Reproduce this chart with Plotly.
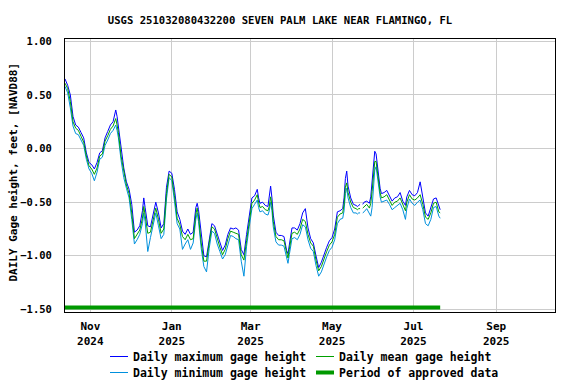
import plotly.graph_objects as go
import pandas as pd

# ---------------- data ----------------
start_date = "2024-10-13"
day_offsets = [0, 2, 4, 6, 8, 10, 12, 14, 16, 18, 20, 22, 24, 26, 28, 30, 32, 34, 36, 38,
               39, 40, 42, 44, 46, 48, 50, 52, 54, 56, 58, 59, 60, 62, 64, 66, 68, 70, 72, 74,
               76, 78, 80, 82, 84, 86, 88, 90, 92, 94, 96, 98, 99, 100, 102, 104, 106, 108, 110, 112,
               114, 116, 118, 120, 122, 124, 126, 128, 130, 132, 134, 136, 138, 140, 142, 144, 145, 146, 148, 150,
               152, 153, 154, 155, 156, 158, 160, 162, 164, 166, 167, 168, 170, 172, 174, 176, 178, 180, 182, 184,
               186, 188, 190, 192, 194, 196, 198, 200, 202, 204, 206, 208, 209, 210, 211, 212, 214, 216, 218, 219,
               220, 221, 222, 223, 224, 226, 228, 229, 230, 231, 232, 233, 234, 235, 236, 237, 239, 241, 243, 245,
               247, 249, 251, 253, 255, 256, 258, 260, 262, 264, 266, 268, 270, 272, 274, 276, 278, 280, 281]

gage_mean = [0.61, 0.56, 0.44, 0.25, 0.19, 0.17, 0.115, 0.06, -0.07, -0.16, -0.19, -0.24, -0.18, -0.07, -0.05, 0.07, 0.12, 0.18, 0.21, 0.28,
             0.22, 0.15, -0.07, -0.22, -0.34, -0.42, -0.60, -0.84, -0.80, -0.76, -0.65, -0.54, -0.62, -0.79, -0.78, -0.66, -0.555, -0.66, -0.79, -0.75,
             -0.42, -0.24, -0.265, -0.44, -0.65, -0.71, -0.82, -0.85, -0.80, -0.85, -0.84, -0.61, -0.555, -0.63, -0.88, -1.05, -1.05, -0.88, -0.73, -0.75,
             -0.84, -0.92, -0.99, -0.94, -0.84, -0.77, -0.78, -0.79, -0.80, -0.99, -1.04, -0.86, -0.68, -0.51, -0.48, -0.43, -0.50, -0.55, -0.54, -0.57,
             -0.58, -0.54, -0.45, -0.53, -0.68, -0.82, -0.85, -0.85, -0.86, -0.99, -1.02, -0.94, -0.79, -0.78, -0.80, -0.75, -0.66, -0.68, -0.80, -0.88,
             -0.91, -1.04, -1.14, -1.10, -1.02, -0.96, -0.90, -0.87, -0.80, -0.64, -0.61, -0.60, -0.52, -0.36, -0.32, -0.41, -0.50, -0.55, -0.56, -0.57,
             -0.56, -0.56, None, -0.555, -0.545, -0.52, -0.555, -0.51, -0.40, -0.23, -0.12, -0.12, -0.23, -0.35, -0.41, -0.46, -0.45, -0.43, -0.48, -0.53,
             -0.50, -0.49, -0.46, -0.53, -0.58, -0.50, -0.43, -0.47, -0.48, -0.46, -0.43, -0.52, -0.64, -0.66, -0.60, -0.51, -0.50, -0.59, -0.60]

gage_max = [0.65, 0.59, 0.50, 0.30, 0.22, 0.20, 0.15, 0.10, -0.04, -0.13, -0.15, -0.19, -0.13, -0.04, -0.02, 0.10, 0.16, 0.22, 0.25, 0.36,
            0.30, 0.20, -0.02, -0.18, -0.31, -0.38, -0.52, -0.78, -0.76, -0.72, -0.58, -0.46, -0.55, -0.72, -0.73, -0.60, -0.50, -0.60, -0.74, -0.70,
            -0.36, -0.21, -0.23, -0.38, -0.59, -0.66, -0.77, -0.80, -0.75, -0.80, -0.78, -0.55, -0.51, -0.57, -0.82, -1.00, -1.01, -0.83, -0.70, -0.72,
            -0.80, -0.88, -0.95, -0.90, -0.80, -0.74, -0.75, -0.74, -0.76, -0.94, -0.99, -0.80, -0.62, -0.46, -0.44, -0.38, -0.46, -0.51, -0.50, -0.53,
            -0.54, -0.45, -0.35, -0.46, -0.62, -0.78, -0.81, -0.81, -0.82, -0.95, -0.98, -0.90, -0.74, -0.74, -0.76, -0.70, -0.60, -0.56, -0.74, -0.84,
            -0.88, -1.00, -1.11, -1.06, -0.98, -0.92, -0.86, -0.83, -0.75, -0.59, -0.58, -0.56, -0.46, -0.28, -0.21, -0.35, -0.46, -0.52, -0.53, -0.54,
            -0.53, -0.52, None, -0.52, -0.50, -0.49, -0.51, -0.45, -0.32, -0.15, -0.025, -0.05, -0.17, -0.30, -0.37, -0.42, -0.41, -0.39, -0.44, -0.49,
            -0.46, -0.45, -0.41, -0.49, -0.53, -0.45, -0.39, -0.43, -0.44, -0.41, -0.31, -0.45, -0.60, -0.63, -0.56, -0.47, -0.46, -0.55, -0.57]

gage_min = [0.58, 0.52, 0.38, 0.21, 0.14, 0.13, 0.08, 0.03, -0.10, -0.19, -0.23, -0.30, -0.22, -0.10, -0.08, 0.03, 0.08, 0.14, 0.17, 0.22,
            0.17, 0.10, -0.11, -0.27, -0.37, -0.46, -0.66, -0.89, -0.85, -0.80, -0.70, -0.60, -0.68, -0.96, -0.83, -0.71, -0.60, -0.72, -0.84, -0.80,
            -0.47, -0.27, -0.30, -0.49, -0.70, -0.75, -0.94, -0.89, -0.85, -0.94, -0.88, -0.66, -0.60, -0.68, -0.93, -1.10, -1.15, -0.93, -0.77, -0.79,
            -0.89, -0.96, -1.03, -0.99, -0.89, -0.81, -0.82, -0.84, -0.85, -1.05, -1.19, -0.91, -0.73, -0.56, -0.52, -0.48, -0.55, -0.59, -0.58, -0.61,
            -0.62, -0.58, -0.50, -0.58, -0.73, -0.87, -0.90, -0.90, -0.91, -1.04, -1.07, -0.99, -0.84, -0.83, -0.85, -0.80, -0.71, -0.73, -0.85, -0.93,
            -0.96, -1.09, -1.19, -1.15, -1.07, -1.01, -0.95, -0.92, -0.85, -0.70, -0.66, -0.65, -0.58, -0.42, -0.37, -0.46, -0.55, -0.60, -0.60, -0.61,
            -0.60, -0.60, None, -0.60, -0.59, -0.56, -0.60, -0.63, -0.55, -0.32, -0.20, -0.17, -0.28, -0.40, -0.45, -0.50, -0.49, -0.48, -0.52, -0.57,
            -0.55, -0.53, -0.51, -0.57, -0.66, -0.56, -0.47, -0.51, -0.53, -0.50, -0.48, -0.57, -0.70, -0.72, -0.66, -0.55, -0.54, -0.63, -0.65]

approved_period = ["2024-10-12", "2025-07-21"]
approved_level = -1.483

tick_dates = ["2024-11-01", "2025-01-01", "2025-03-01", "2025-05-01", "2025-07-01", "2025-09-01"]
tick_labels = ["Nov<br>2024", "Jan<br>2025", "Mar<br>2025", "May<br>2025", "Jul<br>2025", "Sep<br>2025"]
y_ticks = [1.0, 0.5, 0.0, -0.5, -1.0, -1.5]

series_names = ["Daily maximum gage height", "Daily mean gage height",
                "Daily minimum gage height", "Period of approved data"]

# ---------------- figure ----------------
dates = pd.to_datetime(start_date) + pd.to_timedelta(day_offsets, unit="D")

W, H = 576, 384
ML, MR, MT, MB = 65, 21, 39, 72
PW, PH = W - ML - MR, H - MT - MB

FONT = "DejaVu Sans Mono"
C_MAX = "#0000ff"
C_MIN = "#0090dd"
C_MEAN = "#00a000"
C_APPR = "#009900"


def px_x(px):
    return (px - ML) / PW


def px_y(py):
    return (H - MB - py) / PH


fig = go.Figure()
fig.add_trace(go.Scatter(x=dates, y=gage_max, mode="lines", name=series_names[0],
                         line=dict(color=C_MAX, width=1), showlegend=False))
fig.add_trace(go.Scatter(x=dates, y=gage_min, mode="lines", name=series_names[2],
                         line=dict(color=C_MIN, width=1), showlegend=False))
fig.add_trace(go.Scatter(x=dates, y=gage_mean, mode="lines", name=series_names[1],
                         line=dict(color=C_MEAN, width=1), showlegend=False))
fig.add_trace(go.Scatter(x=approved_period, y=[approved_level] * len(approved_period), mode="lines",
                         name=series_names[3], line=dict(color=C_APPR, width=4), showlegend=False))

# manual two-column legend
legend_items = [
    (series_names[0], C_MAX, 1, 110, 356.5),
    (series_names[1], C_MEAN, 1, 316, 356.5),
    (series_names[2], C_MIN, 1, 110, 372.5),
    (series_names[3], C_APPR, 4, 316, 372.5),
]
for name, color, lw, lx, ly in legend_items:
    fig.add_shape(type="line", xref="paper", yref="paper",
                  x0=px_x(lx), x1=px_x(lx + 18), y0=px_y(ly), y1=px_y(ly),
                  line=dict(color=color, width=lw))
    fig.add_annotation(text=name, xref="paper", yref="paper",
                       x=px_x(lx + 21), y=px_y(ly), xanchor="left", yanchor="middle",
                       showarrow=False,
                       font=dict(family=FONT, size=11.5, color="black", weight="bold"))

# y-axis title
fig.add_annotation(text="DAILY Gage height, feet, [NAVD88]", xref="paper", yref="paper",
                   x=px_x(12.5), y=px_y(172), textangle=-90, showarrow=False,
                   xanchor="center", yanchor="middle",
                   font=dict(family=FONT, size=11, color="black", weight="bold"))

fig.update_layout(
    width=W, height=H,
    margin=dict(l=ML, r=MR, t=MT, b=MB, autoexpand=False),
    paper_bgcolor="white", plot_bgcolor="white",
    font=dict(family=FONT, size=11, color="black", weight="bold"),
    title=dict(text="USGS 251032080432200 SEVEN PALM LAKE NEAR FLAMINGO, FL",
               x=280 / W, xanchor="center", xref="container",
               y=1 - 20 / H, yanchor="middle", yref="container",
               font=dict(family=FONT, size=10.6, color="black", weight="bold")),
    showlegend=False,
    xaxis=dict(type="date", range=["2024-10-13", "2025-10-15"],
               tickvals=tick_dates, ticktext=tick_labels, automargin=False,
               showgrid=True, gridcolor="#cccccc", gridwidth=1,
               showline=True, linecolor="black", linewidth=1, mirror=True,
               ticks="", zeroline=False, ticklabelstandoff=4,
               tickfont=dict(family=FONT, size=11, color="black", weight="bold")),
    yaxis=dict(range=[-1.524, 1.022], tickvals=y_ticks, tickformat=".2f", automargin=False,
               showgrid=True, gridcolor="#cccccc", gridwidth=1,
               showline=True, linecolor="black", linewidth=1, mirror=True,
               ticks="", zeroline=False, ticklabelstandoff=10,
               tickfont=dict(family=FONT, size=10.5, color="black", weight="bold")),
)

fig.write_html("out.html", config={"displayModeBar": False},
               post_script="document.body.style.margin='0';")
